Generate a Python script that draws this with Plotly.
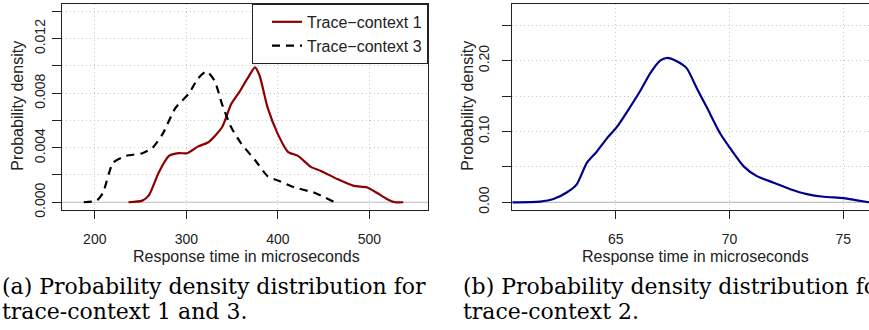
import plotly.graph_objects as go

# ---- data ----
tc1_x = [236.8, 252, 259, 270, 281, 292, 301, 313, 324, 339, 349, 358, 367, 375, 380, 389, 400, 411, 422, 436, 447, 465, 483, 497, 508, 519, 528, 537]
tc1_y = [0.0, 0.00012, 0.0005, 0.0022, 0.0034, 0.0036, 0.0036, 0.0041, 0.0044, 0.0055, 0.0072, 0.0081, 0.0091, 0.0099, 0.0093, 0.0069, 0.0050, 0.0037, 0.0034, 0.0026, 0.0023, 0.0017, 0.0012, 0.0011, 0.0007, 0.00024, 0.0, 0.0]

tc3_x = [188, 202, 209, 220, 234, 252, 263, 274, 288, 303, 313, 322, 331, 339, 349, 360, 375, 389, 400, 418, 440, 450, 461, 466]
tc3_y = [0.0, 0.00012, 0.0007, 0.0029, 0.0034, 0.0036, 0.0040, 0.0050, 0.0069, 0.0080, 0.0091, 0.0096, 0.0089, 0.0072, 0.0055, 0.0043, 0.0031, 0.0019, 0.0016, 0.0011, 0.0007, 0.0004, 0.00005, 0.0]

tc2_x = [60.45, 61.67, 62.26, 62.84, 63.28, 63.72, 64.16, 64.60, 65.04, 65.48, 66.07, 66.51, 66.95, 67.24, 67.68, 68.12, 68.56, 69.0, 69.59, 70.03, 70.62, 71.20, 71.94, 72.67, 73.40, 74.13, 75.01, 75.60, 76.14]
tc2_y = [0.0, 0.001, 0.0046, 0.0138, 0.0253, 0.0553, 0.0714, 0.0899, 0.106, 0.127, 0.157, 0.182, 0.200, 0.2037, 0.199, 0.189, 0.161, 0.134, 0.097, 0.076, 0.0507, 0.0369, 0.0276, 0.0184, 0.0115, 0.0078, 0.006, 0.0028, 0.0]

left_yticks = [0.0, 0.002, 0.004, 0.006, 0.008, 0.010, 0.012, 0.014]
left_ytext = ["0.000", "", "0.004", "", "0.008", "", "0.012", ""]
left_xticks = [200, 300, 400, 500]
right_yticks = [0.0, 0.05, 0.10, 0.15, 0.20, 0.25]
right_ytext = ["0.00", "", "0.10", "", "0.20", ""]
right_xticks = [65, 70, 75]

names = ["Trace\u2212context 1", "Trace\u2212context 3"]
x_title = "Response time in microseconds"
y_title = "Probability density"
cap_a = ["(a) Probability density distribution for", "trace-context 1 and 3."]
cap_b = ["(b) Probability density distribution for", "trace-context 2."]

W, H = 869, 330
def px(x): return x / W
def py(y): return 1 - y / H

SANS = "Liberation Sans, Arial, sans-serif"
SERIF = "DejaVu Serif, serif"
AX = "#222222"

fig = go.Figure()
fig.add_trace(go.Scatter(x=tc1_x, y=tc1_y, mode="lines", name=names[0],
                         line=dict(color="#8B0000", width=2.2, shape="spline", smoothing=0.6),
                         xaxis="x", yaxis="y"))
fig.add_trace(go.Scatter(x=tc3_x, y=tc3_y, mode="lines", name=names[1],
                         line=dict(color="black", width=2.2, dash="8px,6px", shape="spline", smoothing=0.6),
                         xaxis="x", yaxis="y"))
fig.add_trace(go.Scatter(x=tc2_x, y=tc2_y, mode="lines", name="Trace-context 2", showlegend=False,
                         line=dict(color="#00008B", width=2.2, shape="spline", smoothing=0.6),
                         xaxis="x2", yaxis="y2"))

common_x = dict(showline=True, linecolor=AX, linewidth=1, mirror=True, ticks="outside", ticklen=8,
                tickcolor=AX, showgrid=True, gridcolor="#c8c8c8", griddash="1px,3px", gridwidth=1,
                zeroline=False, tickfont=dict(family=SANS, size=14, color=AX),
                ticklabelstandoff=8)
common_y = dict(showline=True, linecolor=AX, linewidth=1, ticks="outside", ticklen=9,
                tickcolor=AX, showgrid=True, gridcolor="#c8c8c8", griddash="1px,3px", gridwidth=1,
                zeroline=False, tickangle=-90, tickfont=dict(family=SANS, size=14, color=AX))

ydom = [py(215), py(4)]
fig.update_layout(
    width=W, height=H, margin=dict(l=0, r=0, t=0, b=0),
    paper_bgcolor="white", plot_bgcolor="white",
    xaxis=dict(domain=[px(62), px(428)], range=[164.2, 564], tickvals=left_xticks, anchor="y", **common_x),
    yaxis=dict(domain=ydom, range=[-0.0006, 0.01455], tickvals=left_yticks, ticktext=left_ytext,
               anchor="x", mirror=True, ticklabelstandoff=1, **common_y),
    xaxis2=dict(domain=[px(512.3), 1.0], range=[60.45, 76.13], tickvals=right_xticks, anchor="y2", **common_x),
    yaxis2=dict(domain=ydom, range=[-0.0115, 0.280], tickvals=right_yticks, ticktext=right_ytext,
                anchor="x2", mirror=False, ticklabelstandoff=8, **common_y),
    legend=dict(x=px(428), xanchor="right", y=py(4), yanchor="top",
                bgcolor="white", bordercolor=AX, borderwidth=1, indentation=14,
                font=dict(family=SANS, size=16, color=AX), tracegroupgap=0),
    showlegend=True,
)

# zero reference lines
for xr, yr in (("x domain", "y"), ("x2 domain", "y2")):
    fig.add_shape(type="line", xref=xr, yref=yr, x0=0, x1=1, y0=0, y1=0,
                  line=dict(color="#bdbdbd", width=1.2), layer="below")

ann = []
for cx in (246, 695):
    ann.append(dict(x=px(cx), y=py(262), xref="paper", yref="paper", text=x_title, showarrow=False,
                    font=dict(family=SANS, size=16, color=AX), xanchor="center", yanchor="middle"))
for cx in (18, 468):
    ann.append(dict(x=px(cx), y=py(108), xref="paper", yref="paper", text=y_title, showarrow=False,
                    textangle=-90, font=dict(family=SANS, size=16, color=AX), xanchor="center", yanchor="middle"))
for x0, cap in ((0, cap_a), (461, cap_b)):
    for i, line in enumerate(cap):
        ann.append(dict(x=px(x0), y=py(293 + 25 * i), xref="paper", yref="paper", text=line, showarrow=False,
                        font=dict(family=SERIF, size=22, color="black"), xanchor="left", yanchor="middle"))
fig.update_layout(annotations=ann)

fig.write_html("out.html", config={"displayModeBar": False},
               post_script="document.body.style.margin='0px';")
